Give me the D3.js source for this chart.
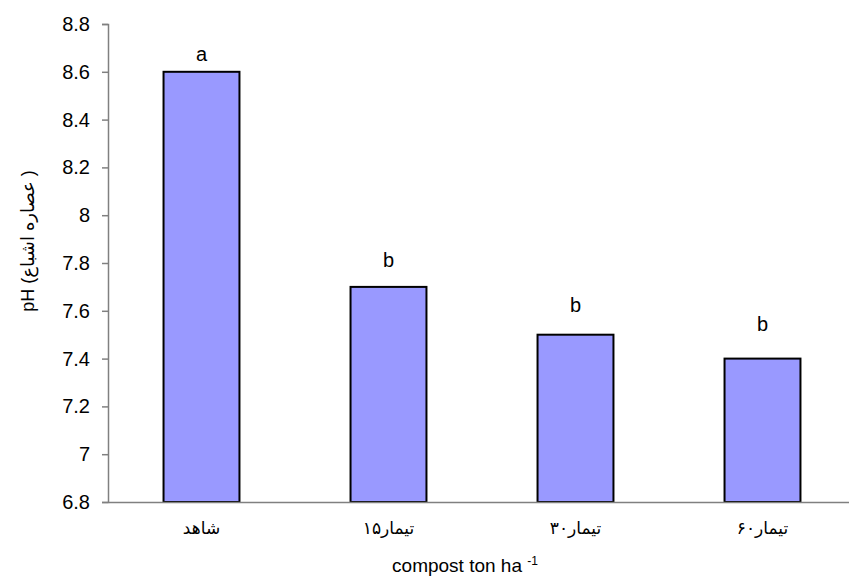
<!DOCTYPE html>
<html>
<head>
<meta charset="utf-8">
<script src="https://cdn.jsdelivr.net/npm/d3@7"></script>
<style>
  body { margin: 0; background: #fff; }
  svg { display: block; }
  text { font-family: "Liberation Sans", Arial, "DejaVu Sans", sans-serif; fill: #000; }
</style>
</head>
<body>
<svg id="chart" width="849" height="576"></svg>
<script>
// Treatments (compost rates) and mean saturated-paste pH
const categories = ["شاهد", "تیمار۱۵", "تیمار۳۰", "تیمار۶۰"];
const phValues = [8.6, 7.7, 7.5, 7.4];
// Mean-separation letters and the pH level each letter sits at
const letters = ["a", "b", "b", "b"];
const letterLevels = [8.645, 7.782, 7.595, 7.515];
const yTicks = [6.8, 7, 7.2, 7.4, 7.6, 7.8, 8, 8.2, 8.4, 8.6, 8.8];
const yDomain = [6.8, 8.8];

const svg = d3.select("#chart");
const margin = { left: 108, right: -7, top: 24, bottom: 74 };
const W = 849, H = 576;

const x = d3.scaleBand()
  .domain(categories)
  .range([margin.left, W - margin.right])
  .paddingInner(0.594)
  .paddingOuter(0.297);

const y = d3.scaleLinear()
  .domain(yDomain)
  .range([H - margin.bottom, margin.top]);

// Bars
svg.append("g")
  .selectAll("rect")
  .data(categories)
  .join("rect")
  .attr("x", d => x(d))
  .attr("y", (d, i) => y(phValues[i]))
  .attr("width", x.bandwidth())
  .attr("height", (d, i) => y(yDomain[0]) - y(phValues[i]))
  .attr("fill", "#9999ff")
  .attr("stroke", "#000")
  .attr("stroke-width", 2);

// Y axis
const yAxis = svg.append("g")
  .attr("transform", `translate(${margin.left},0)`)
  .call(d3.axisLeft(y).tickValues(yTicks).tickSize(6).tickPadding(12)
    .tickFormat(d => d3.format("")(+d.toFixed(1))));
yAxis.select(".domain").attr("stroke", "#808080").attr("stroke-width", 1.5);
yAxis.selectAll(".tick line").attr("stroke", "#808080").attr("stroke-width", 1.5);
yAxis.selectAll(".tick text").style("font-size", "20px");

// X axis line and category labels
const xAxis = svg.append("g")
  .attr("transform", `translate(0,${y(yDomain[0])})`)
  .call(d3.axisBottom(x).tickSize(0).tickPadding(20));
xAxis.select(".domain").attr("stroke", "#808080").attr("stroke-width", 1.5);
xAxis.selectAll(".tick text").style("font-size", "17px").attr("direction", "rtl");

// Significance letters
svg.append("g")
  .selectAll("text")
  .data(letters)
  .join("text")
  .attr("x", (d, i) => x(categories[i]) + x.bandwidth() / 2)
  .attr("y", (d, i) => y(letterLevels[i]))
  .attr("text-anchor", "middle")
  .style("font-size", "20px")
  .text(d => d);

// X axis title with superscript
const xt = svg.append("text")
  .attr("x", 465)
  .attr("y", 572)
  .attr("text-anchor", "middle")
  .style("font-size", "19px");
xt.append("tspan").text("compost ton ha ");
xt.append("tspan").attr("dy", -7).style("font-size", "12px").text("-1");

// Y axis title
svg.append("text")
  .attr("transform", "translate(34,241) rotate(-90)")
  .attr("text-anchor", "middle")
  .style("font-size", "18px")
  .text("pH (عصاره اشباع )");
</script>
</body>
</html>
